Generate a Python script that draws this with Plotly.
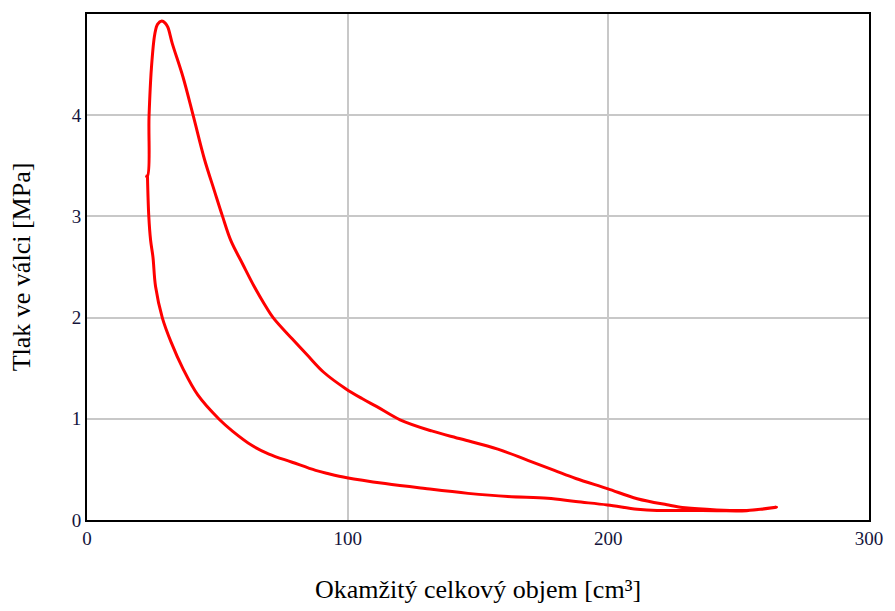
import plotly.graph_objects as go

# Expansion path: from the start stub, up to the peak, then down to the right end
v_exp = [22.4, 23.2, 23.8, 24.7, 26.0, 27.1, 28.7, 30.0, 31.0, 32.7, 36.8, 40.8, 45.0, 48.9,
         52.0, 55.2, 59.7, 64.1, 67.9, 71.4, 78.7, 84.5, 90.8, 99.1, 105.5, 111.2, 120.1,
         132.2, 143.6, 157.6, 169.1, 179.3, 187.5, 199.6, 211.1, 222.5, 229.5, 241.6,
         253.1, 258.8, 264.5]
p_exp = [3.40, 3.40, 3.99, 4.46, 4.80, 4.90, 4.93, 4.91, 4.87, 4.71, 4.38, 3.99, 3.57, 3.25,
         3.00, 2.76, 2.53, 2.31, 2.14, 2.00, 1.79, 1.63, 1.46, 1.30, 1.20, 1.12, 0.99,
         0.88, 0.80, 0.70, 0.59, 0.49, 0.41, 0.31, 0.21, 0.15, 0.12, 0.10,
         0.095, 0.107, 0.127]

# Compression path: from the right end back to the left
v_comp = [253.1, 241.6, 230.2, 218.7, 211.1, 199.6, 187.5, 176.7, 161.5, 146.2, 129.7,
          114.4, 99.7, 92.7, 87.7, 78.7, 69.8, 63.5, 55.8, 50.8, 42.5, 36.8, 32.3, 28.9,
          26.3, 25.3, 24.4, 23.7, 23.2]
p_comp = [0.092, 0.092, 0.094, 0.094, 0.107, 0.149, 0.182, 0.214, 0.231, 0.263, 0.311,
          0.360, 0.418, 0.457, 0.490, 0.571, 0.652, 0.733, 0.879, 0.993, 1.236, 1.496,
          1.755, 1.998, 2.307, 2.599, 2.764, 3.004, 3.397]

x_ticks = [0, 100, 200, 300]
y_ticks = [0, 1, 2, 3, 4]

V = v_exp + v_comp
P = p_exp + p_comp

serif = "Liberation Serif, Times New Roman, serif"
tick_color = "#14143c"

fig = go.Figure()
fig.add_trace(go.Scatter(x=V, y=P, mode="lines",
                         line=dict(color="#ff0000", width=3, shape="spline", smoothing=1.0),
                         hoverinfo="skip", showlegend=False))

fig.update_layout(
    width=895, height=611,
    margin=dict(l=87, r=21, t=13, b=84),
    paper_bgcolor="white", plot_bgcolor="white",
    font=dict(family=serif, color="black"),
)
fig.update_xaxes(
    range=[0, 300], tickvals=x_ticks, ticktext=[str(t) for t in x_ticks],
    showgrid=True, gridcolor="#c8c8c8", gridwidth=2, zeroline=False,
    showline=True, linecolor="black", linewidth=2, mirror=True,
    ticks="", ticklabelstandoff=0,
    tickfont=dict(family=serif, size=19, color=tick_color),
    title=dict(text="Okamžitý celkový objem [cm³]", font=dict(family=serif, size=26, color="black"),
               standoff=32),
)
fig.update_yaxes(
    range=[0, 5], tickvals=y_ticks, ticktext=[str(t) for t in y_ticks],
    showgrid=True, gridcolor="#c8c8c8", gridwidth=2, zeroline=False,
    showline=True, linecolor="black", linewidth=2, mirror=True,
    ticks="", ticklabelstandoff=0,
    tickfont=dict(family=serif, size=19, color=tick_color),
    title=dict(text="Tlak ve válci [MPa]", font=dict(family=serif, size=26, color="black"),
               standoff=34),
)

fig.write_html("out.html", config={"displayModeBar": False},
               post_script="document.body.style.margin='0';")
